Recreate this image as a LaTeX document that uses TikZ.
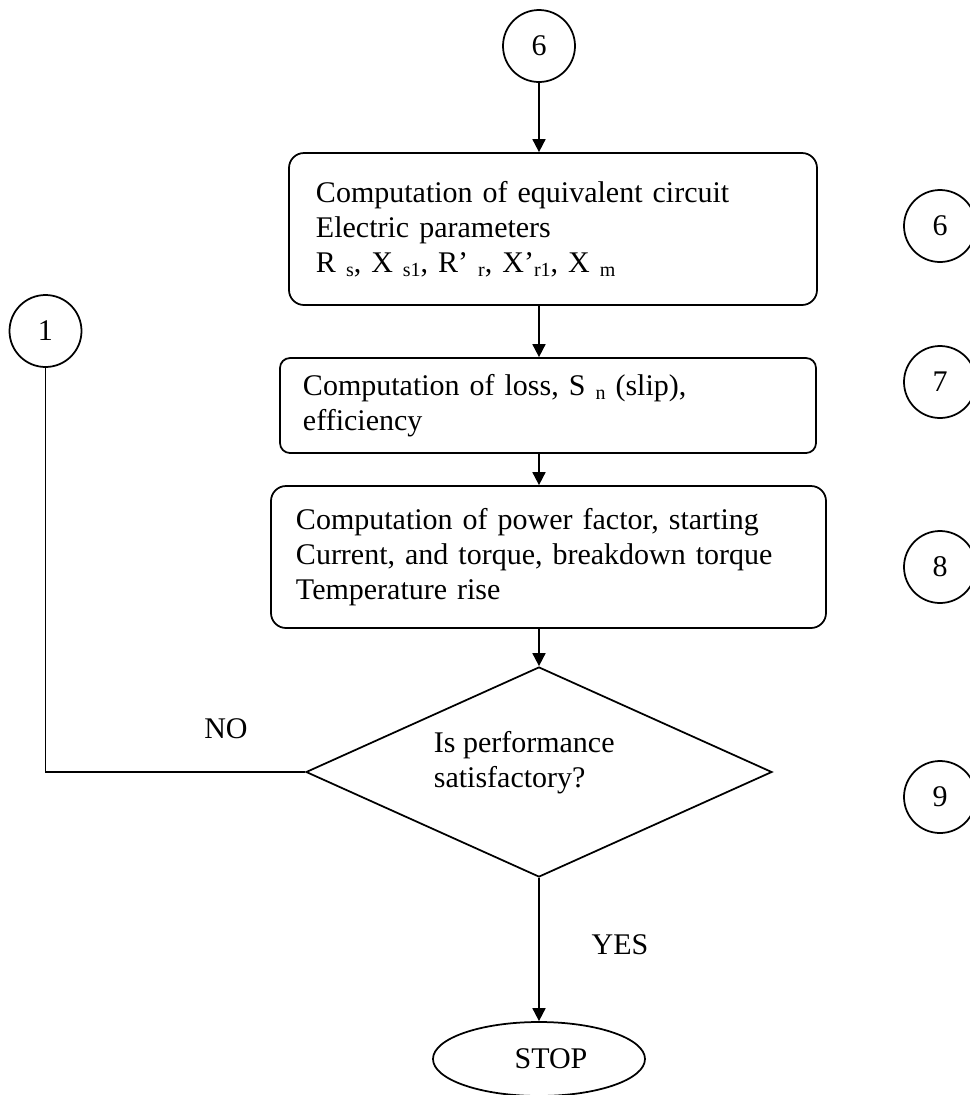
\documentclass[tikz,border=0pt]{standalone}
\usepackage{fontspec}
\setmainfont{Liberation Serif}
\usetikzlibrary{arrows.meta,positioning,calc,shapes.geometric}
\tikzstyle{proc}=[draw,rectangle,rounded corners=6pt,align=left,inner ysep=0pt]
\tikzstyle{conn}=[draw,circle,minimum size=28.8pt,inner sep=0pt]
\tikzstyle{decision}=[draw,diamond,aspect=2.2,minimum width=186.4pt,minimum height=84pt,inner sep=0pt]
\tikzstyle{terminal}=[draw,ellipse,minimum width=84.8pt,minimum height=29.6pt,inner sep=0pt]
\tikzstyle{flow}=[-{Triangle[length=5.2pt,width=5.2pt]}]
\newcommand{\sbs}[1]{\raisebox{-1.6pt}{\fontsize{8pt}{8pt}\selectfont #1}}

\begin{document}
\begin{tikzpicture}[x=0.4pt,y=-0.4pt,line width=0.7pt,font=\fontsize{12pt}{14pt}\selectfont]
\useasboundingbox (0,0) rectangle (969,1095);
\node [conn] (six) at (539,46) {6};
\node [conn] (one) at (45.5,331) {1};
\node [proc, inner xsep=10.8pt, text width=189.6pt, minimum width=211.2pt, minimum height=60.8pt] (box1) at (553,229)
  {Computation of equivalent circuit\\ Electric parameters\\ R \sbs{s}, X \sbs{s1}, R’ \sbs{r}, X’\sbs{r1}, X \sbs{m}};
\node [proc, rounded corners=4pt, inner xsep=9.2pt, text width=196pt, minimum width=214.4pt, minimum height=38pt] (box2) at (548,405.5)
  {Computation of loss, S \sbs{n} (slip),\\ efficiency};
\node [proc, inner xsep=10pt, text width=202pt, minimum width=222pt, minimum height=56.8pt] (box3) at (548.5,557)
  {Computation of power factor, starting\\ Current, and torque, breakdown torque\\ Temperature rise};
\node [decision] (dec) at (539,772) {};
\node [anchor=west, align=left, inner sep=0pt] (dectext) at (433,762.5) {Is performance\\ satisfactory?};
\node [terminal] (stop) at (539,1059) {\hspace*{9.6pt}STOP};
\node (no) at (226,729) {NO};
\node (yes) at (620,945) {YES};
\foreach \n/\y in {6/226,7/382,8/567,9/797}
  \node [conn] (r\n) at (940,\y) {\n};

\draw [flow] (six) -- (six |- box1.north);
\draw [flow] (six |- box1.south) -- (six |- box2.north);
\draw [flow] (six |- box2.south) -- (six |- box3.north);
\draw [flow] (six |- box3.south) -- (dec.north);
\draw [flow] (dec.south) -- (stop.north);
\draw (dec.west) -- (dec.west -| one) -- (one.south);
\end{tikzpicture}
\end{document}
